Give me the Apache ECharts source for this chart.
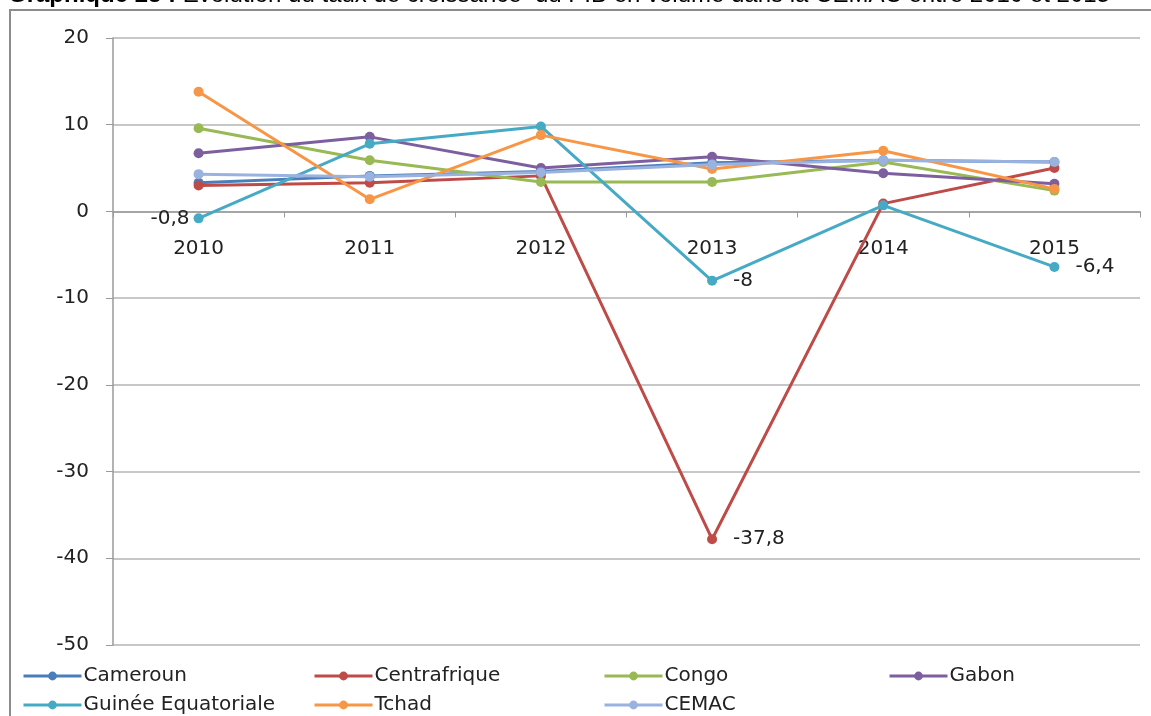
<!DOCTYPE html>
<html>
<head>
<meta charset="utf-8">
<script src="https://cdn.jsdelivr.net/npm/echarts@6/dist/echarts.min.js"></script>
<style>
  html, body { margin: 0; padding: 0; background: #fff; }
  #chart { width: 1151px; height: 716px; }
</style>
</head>
<body>
<div id="chart"></div>
<script>
// années
var years = ['2010', '2011', '2012', '2013', '2014', '2015'];

// taux de croissance du PIB en volume (%)
var cameroun     = [3.3, 4.1, 4.6, 5.6, 5.9, 5.7];
var centrafrique = [3.0, 3.3, 4.1, -37.8, 0.9, 5.0];
var congo        = [9.6, 5.9, 3.4, 3.4, 5.7, 2.4];
var gabon        = [6.7, 8.6, 5.0, 6.3, 4.4, 3.2];
var guinee       = [-0.8, 7.8, 9.8, -8, 0.7, -6.4];
var tchad        = [13.8, 1.4, 8.8, 4.9, 7.0, 2.6];
var cemac        = [4.3, 4.0, 4.5, 5.4, 5.9, 5.7];

// points étiquetés : index -> côté
var centrafriqueLabels = { 3: 'right' };
var guineeLabels = { 0: 'left', 3: 'right', 5: 'right' };

var yMin = -50, yMax = 20;

// grille (px)
var gridTop = 38, gridBottom = 71, chartH = 716;

function fmt(v) {
  return String(v).replace('.', ',');
}

function withLabels(values, labels) {
  return values.map(function (v, i) {
    if (!labels || !labels[i]) return v;
    return {
      value: v,
      label: {
        show: true,
        position: labels[i],
        distance: labels[i] == 'left' ? 4 : 16,
        formatter: function (p) { return fmt(p.value); },
        fontFamily: 'DejaVu Sans',
        fontSize: 20,
        color: '#222'
      }
    };
  });
}

function mkSeries(name, values, color, labels) {
  return {
    name: name,
    type: 'line',
    data: withLabels(values, labels),
    symbol: 'circle',
    symbolSize: 10,
    lineStyle: { width: 3, color: color },
    itemStyle: { color: color },
    emphasis: { disabled: true },
    z: 2
  };
}

function mkLegend(name, left, top) {
  return {
    data: [name],
    left: left,
    top: top,
    padding: 0,
    itemWidth: 58,
    itemHeight: 11,
    lineStyle: { width: 3 },
    textStyle: { fontFamily: 'DejaVu Sans', fontSize: 20, color: '#222', padding: [0, 0, 0, -3] },
    selectedMode: false
  };
}

// axe des x posé sur la ligne du zéro
var plotH = chartH - gridTop - gridBottom;
var zeroOffset = -(plotH * (0 - yMin) / (yMax - yMin));

var chart = echarts.init(document.getElementById('chart'));
chart.setOption({
  animation: false,
  backgroundColor: '#fff',
  title: {
    text: '{b|Graphique 23 :} Evolution du taux de croissance  du PIB en volume dans la CEMAC entre 2010 et 2015',
    left: 8,
    top: -17,
    padding: 0,
    textStyle: {
      fontFamily: 'Liberation Sans',
      fontSize: 24,
      fontWeight: 'normal',
      color: '#000',
      rich: { b: { fontFamily: 'Liberation Sans', fontSize: 24, fontWeight: 'bold', color: '#000' } }
    }
  },
  graphic: [{
    type: 'rect',
    shape: { x: 10, y: 10, width: 1160, height: 720 },
    style: { fill: 'none', stroke: '#8c8c8c', lineWidth: 2 },
    silent: true,
    z: -1
  }],
  legend: [
    mkLegend('Cameroun', 22, 666),
    mkLegend('Centrafrique', 313, 666),
    mkLegend('Congo', 603, 666),
    mkLegend('Gabon', 888, 666),
    mkLegend('Guinée Equatoriale', 22, 695),
    mkLegend('Tchad', 313, 695),
    mkLegend('CEMAC', 603, 695)
  ],
  grid: { left: 113, right: 11, top: gridTop, bottom: gridBottom },
  xAxis: {
    type: 'category',
    data: years,
    boundaryGap: true,
    position: 'bottom',
    offset: zeroOffset,
    axisLine: { onZero: false, lineStyle: { color: '#9a9a9a', width: 1.5 } },
    axisTick: { show: true, length: 6, lineStyle: { color: '#9a9a9a' } },
    axisLabel: { margin: 27, fontFamily: 'DejaVu Sans', fontSize: 20, color: '#222' },
    splitLine: { show: false }
  },
  yAxis: {
    type: 'value',
    min: yMin,
    max: yMax,
    interval: 10,
    axisLine: { show: true, lineStyle: { color: '#9a9a9a', width: 1.5 } },
    axisTick: { show: true, length: 7, lineStyle: { color: '#9a9a9a' } },
    axisLabel: { margin: 24, fontFamily: 'DejaVu Sans', fontSize: 20, color: '#222' },
    splitLine: { lineStyle: { color: '#b4b4b4', width: 1.5 } }
  },
  series: [
    mkSeries('Cameroun', cameroun, '#4a7ebb'),
    mkSeries('Centrafrique', centrafrique, '#be4b48', centrafriqueLabels),
    mkSeries('Congo', congo, '#98b954'),
    mkSeries('Gabon', gabon, '#7d5fa0'),
    mkSeries('Guinée Equatoriale', guinee, '#46aac5', guineeLabels),
    mkSeries('Tchad', tchad, '#f79646'),
    mkSeries('CEMAC', cemac, '#9ab2df')
  ]
});
</script>
</body>
</html>
